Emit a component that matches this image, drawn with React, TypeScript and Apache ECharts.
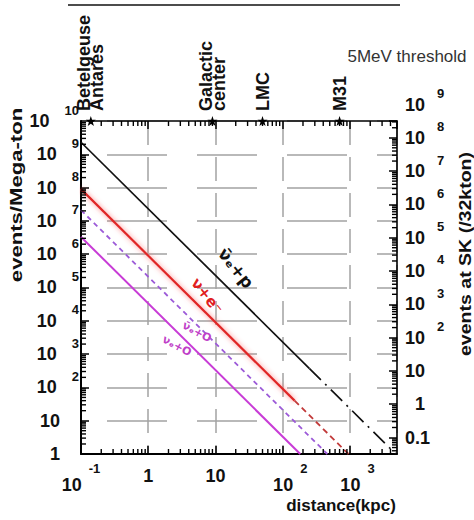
import React, { useEffect, useRef } from 'react';
import * as echarts from 'echarts';

// ---- axis ranges (log scales) ----
const X_MIN = 0.1;
const X_MAX = 5000;
const Y_MIN = 1;
const Y_MAX = 9.99e9; // top of plot (10^10)
const Y_TOP_LABEL_MIN = 10;
const Y_TOP_LABEL_MAX = 1e10;
const SK_MIN = 0.032; // events at SK (/32kton) = events/Mton * 0.032
const SK_MAX = 3.19e8;
const SK_LABEL_MIN = 0.1;
const SK_LABEL_MAX = 9.999e8;
const SK_TOP_LABEL_MIN = 10;
const SK_TOP_LABEL_MAX = 1e9;

// ---- landmarks on top axis (kpc) ----
const landmarkDistances = [0.14, 9, 50, 700];
const landmarkNames = ['Betelgeuse\nAntares', 'Galactic\ncenter', 'LMC', 'M31'];

// ---- series: [distance (kpc), events / Mega-ton] ----
const nubarPSolid = [[0.1, 2.3e9], [250, 368]];
const nubarPDashDot = [[250, 368], [4800, 1]];
const nuESolid = [[0.1, 9e7], [150, 40]];
const nuEDashed = [[150, 40], [950, 1]];
const oxygenDashed = [[0.1, 2.1e7], [460, 1]];
const oxygenSolid = [[0.1, 3.3e6], [182, 1]];

// ---- minor tick construction (log axis decoration) ----
const MANTISSAS = [2, 3, 4, 5, 6, 7, 8, 9];
const X_DECADES = [-1, 0, 1, 2, 3];
const Y_DECADES = [0, 1, 2, 3, 4, 5, 6, 7, 8, 9];
const SK_DECADES = [-2, -1, 0, 1, 2, 3, 4, 5, 6, 7, 8];
const minorOf = (decades: number[], lo: number, hi: number) => {
  const out: number[] = [];
  decades.forEach((e) => MANTISSAS.forEach((m) => {
    const v = m * Math.pow(10, e);
    if (v > lo && v < hi) out.push(v);
  }));
  return out;
};
const xMinor = minorOf(X_DECADES, X_MIN, X_MAX);
const yMinor = minorOf(Y_DECADES, Y_MIN, Y_MAX);
const skMinor = minorOf(SK_DECADES, SK_MIN, SK_MAX);

const F = '"Liberation Sans", Arial, Helvetica, sans-serif';
const STAR =
  'path://M0,-10L2.35,-3.24L9.51,-3.09L3.8,1.24L5.88,8.09L0,4L-5.88,8.09L-3.8,1.24L-9.51,-3.09L-2.35,-3.24Z';

const expOf = (v: number) => Math.round(Math.log10(v));

const baseTxt = { fontSize: 18, fontWeight: 'bold', fontFamily: F, color: '#111', lineHeight: 18 };
const supTxt = { fontSize: 13, fontWeight: 'bold', fontFamily: F, color: '#111', lineHeight: 13 };

const leftRich = {
  b: { ...baseTxt },
  s: { ...supTxt, padding: [0, 0, 22, 15] },
  p: { ...baseTxt, padding: [0, 19, 0, 0] },
};
const bottomRich = {
  b: { ...baseTxt, lineHeight: 46, padding: [0, 0, 0, 15] },
  b0: { ...baseTxt, lineHeight: 46 },
  s: { ...supTxt, verticalAlign: 'top', padding: [0, 0, 0, 7] },
  p: { ...baseTxt, lineHeight: 28 },
};
const rightRich = {
  b: { ...baseTxt },
  s: { ...supTxt, padding: [0, 0, 22, 12] },
  p: { ...baseTxt },
  p1: { ...baseTxt, padding: [0, 0, 0, 10] },
};

const leftFmt = (v: number) => {
  const e = expOf(v);
  if (e === 0) return '{p|1}';
  if (e === 1) return '{p|10}';
  return `{b|10}{s|${e}}`;
};
const bottomFmt = (v: number) => {
  const e = expOf(v);
  if (e === -1) return '{b0|10}{s|-1}';
  if (e === 0) return '{p|1}';
  if (e === 1) return '{p|10}';
  return `{b|10}{s|${e}}`;
};
const rightFmt = (v: number) => {
  const e = expOf(v);
  if (e === -1) return '{p|0.1}';
  if (e === 0) return '{p1|1}';
  if (e === 1) return '{p|10}';
  return `{b|10}{s|${e}}`;
};

const tickStyle = { color: '#000', width: 1.5 };
const hiddenX = (gridIndex: number) => ({ type: 'value', gridIndex, show: false, min: 0, max: 1 });
const labelOnlyY = (gridIndex: number, position: string, min: number, max: number, margin: number, fmt: any, rich: any, extra: any = {}) => ({
  type: 'log', logBase: 10, gridIndex, position, min, max, splitNumber: 10,
  axisLine: { show: false }, axisTick: { show: false }, splitLine: { show: false },
  axisLabel: { margin, formatter: fmt, rich, ...extra },
});

function App() {
  const ref = useRef<HTMLDivElement>(null);
  useEffect(() => {
    document.body.style.margin = '0';
    if (!ref.current) return;
    const chart = echarts.init(ref.current, null, { renderer: 'svg' });

    const lineBase = { type: 'line', xAxisIndex: 0, yAxisIndex: 0, showSymbol: false, symbol: 'none', z: 3, silent: true };
    const tickBase = { type: 'scatter', silent: true, clip: false, z: 7, symbol: 'rect', itemStyle: { color: '#000', opacity: 1 } };

    const option: any = {
      animation: false,
      backgroundColor: '#fff',
      grid: [
        { left: 81, right: 77, top: 121, bottom: 66 },
        { left: 81, right: 77, top: 104.5, bottom: 82.5 },
        { left: 81, right: 77, top: 104.5, bottom: 149.1 },
        { left: 81, right: 77, top: 121, bottom: 99.3 },
      ],
      xAxis: [
        {
          type: 'log', logBase: 10, gridIndex: 0, position: 'bottom', min: X_MIN, max: X_MAX, splitNumber: 5,
          axisLine: { lineStyle: { color: '#000', width: 2 } },
          axisTick: { inside: true, length: 8, lineStyle: tickStyle },
          axisLabel: { margin: 8, formatter: bottomFmt, rich: bottomRich, showMaxLabel: false },
          splitLine: { show: true, lineStyle: { color: '#a3a3a3', width: 1.5, type: [24, 12] } },
        },
        {
          type: 'log', logBase: 10, gridIndex: 0, position: 'top', min: X_MIN, max: X_MAX, splitNumber: 5,
          axisLine: { lineStyle: { color: '#000', width: 1.6 } },
          axisTick: { inside: true, length: 8, lineStyle: tickStyle },
          axisLabel: { show: false },
          splitLine: { show: false },
        },
        hiddenX(1),
        hiddenX(2),
        hiddenX(3),
      ],
      yAxis: [
        {
          type: 'log', logBase: 10, gridIndex: 0, position: 'left', min: Y_MIN, max: Y_MAX, splitNumber: 10,
          axisLine: { lineStyle: { color: '#000', width: 2 } },
          axisTick: { inside: true, length: 8, lineStyle: tickStyle },
          axisLabel: { margin: 2, formatter: leftFmt, rich: leftRich },
          splitLine: { show: true, lineStyle: { color: '#a3a3a3', width: 1.5, type: [60, 30], dashOffset: 64 } },
        },
        {
          type: 'log', logBase: 10, gridIndex: 0, position: 'right', min: SK_MIN, max: SK_MAX, splitNumber: 10,
          axisLine: { lineStyle: { color: '#000', width: 1.6 } },
          axisTick: { inside: true, length: 8, lineStyle: tickStyle },
          axisLabel: { show: false },
          splitLine: { show: false },
        },
        labelOnlyY(1, 'right', SK_LABEL_MIN, SK_LABEL_MAX, 8, rightFmt, rightRich, { showMaxLabel: false }),
        labelOnlyY(2, 'right', SK_TOP_LABEL_MIN, SK_TOP_LABEL_MAX, 8,
          (v: number) => (expOf(v) === 9 ? rightFmt(v) : ''), rightRich),
        labelOnlyY(3, 'left', Y_TOP_LABEL_MIN, Y_TOP_LABEL_MAX, 2,
          (v: number) => (expOf(v) === 10 ? leftFmt(v) : ''), leftRich),
      ],
      series: [
        { ...lineBase, data: oxygenSolid, lineStyle: { color: '#c83cd6', width: 2 } },
        { ...lineBase, data: oxygenDashed, lineStyle: { color: '#9c5ad8', width: 1.8, type: [5, 4] } },
        {
          ...lineBase, data: nuESolid,
          lineStyle: { color: '#e02828', width: 2.2, shadowBlur: 5, shadowColor: 'rgba(255,90,90,0.8)' },
        },
        { ...lineBase, data: nuEDashed, lineStyle: { color: '#c23a3a', width: 1.8, type: [6, 4] } },
        { ...lineBase, data: nubarPSolid, lineStyle: { color: '#111', width: 1.7 } },
        { ...lineBase, data: nubarPDashDot, lineStyle: { color: '#111', width: 1.7, type: [16, 6, 2, 6] } },
        // minor ticks (bottom, top, left, right), all pointing into the plot
        { ...tickBase, xAxisIndex: 0, yAxisIndex: 0, data: xMinor.map((v) => [v, Y_MIN]), symbolSize: [1.4, 5], symbolOffset: [0, -2.5] },
        { ...tickBase, xAxisIndex: 0, yAxisIndex: 0, data: xMinor.map((v) => [v, Y_MAX]), symbolSize: [1.4, 5], symbolOffset: [0, 2.5] },
        { ...tickBase, xAxisIndex: 0, yAxisIndex: 0, data: yMinor.map((v) => [X_MIN, v]), symbolSize: [5, 1.4], symbolOffset: [2.5, 0] },
        { ...tickBase, xAxisIndex: 0, yAxisIndex: 1, data: skMinor.map((v) => [X_MAX, v]), symbolSize: [5, 1.4], symbolOffset: [-2.5, 0] },
        {
          type: 'scatter', xAxisIndex: 1, yAxisIndex: 0, clip: false, z: 8, silent: true,
          data: landmarkDistances.map((d, i) => ({ value: [d, Y_MAX], name: landmarkNames[i] })),
          symbol: STAR, symbolSize: 10, itemStyle: { color: '#000', opacity: 1 },
          label: {
            show: true, position: 'top', distance: 5, rotate: 90, align: 'left', verticalAlign: 'middle',
            formatter: '{b}', fontSize: 18, fontWeight: 'bold', fontFamily: F, lineHeight: 13, color: '#111',
          },
        },
      ],
      graphic: [
        { type: 'line', shape: { x1: 68, y1: 5, x2: 400, y2: 5 }, style: { stroke: '#111', lineWidth: 1.6 } },
        {
          type: 'text', x: 407, y: 56,
          style: { text: '5MeV threshold', fontSize: 17, fontFamily: F, fill: '#333', align: 'center', verticalAlign: 'middle', textAlign: 'center', textVerticalAlign: 'middle' },
        },
        {
          type: 'text', x: 16, y: 195, rotation: Math.PI / 2, scaleX: 1.3,
          style: { text: 'events/Mega-ton', fontSize: 17, fontWeight: 'bold', fontFamily: F, fill: '#111', align: 'center', verticalAlign: 'middle', textAlign: 'center', textVerticalAlign: 'middle' },
        },
        {
          type: 'text', x: 465, y: 254, rotation: Math.PI / 2, scaleX: 1.15,
          style: { text: 'events at SK (/32kton)', fontSize: 17, fontWeight: 'bold', fontFamily: F, fill: '#111', align: 'center', verticalAlign: 'middle', textAlign: 'center', textVerticalAlign: 'middle' },
        },
        {
          type: 'text', x: 341, y: 505,
          style: { text: 'distance(kpc)', fontSize: 17, fontWeight: 'bold', fontFamily: F, fill: '#111', align: 'center', verticalAlign: 'middle', textAlign: 'center', textVerticalAlign: 'middle' },
        },
        {
          type: 'text', x: 236, y: 268, rotation: -0.9, z: 10,
          style: { text: 'ν̄ₑ+p', fontSize: 17, fontWeight: 'bold', fontFamily: '"DejaVu Sans", sans-serif', fill: '#111', align: 'center', verticalAlign: 'middle', textAlign: 'center', textVerticalAlign: 'middle' },
        },
        {
          type: 'text', x: 207, y: 296, rotation: -0.9, z: 10,
          style: { text: 'ν+e⁻', fontSize: 15, fontWeight: 'bold', fontFamily: '"DejaVu Sans", sans-serif', fill: '#e02020', align: 'center', verticalAlign: 'middle', textAlign: 'center', textVerticalAlign: 'middle' },
        },
        {
          type: 'text', x: 197, y: 332, rotation: -0.5, z: 10,
          style: { text: 'ν̄ₑ+O', fontSize: 11, fontWeight: 'bold', fontFamily: '"DejaVu Sans", sans-serif', fill: '#c040c8', align: 'center', verticalAlign: 'middle', textAlign: 'center', textVerticalAlign: 'middle' },
        },
        {
          type: 'text', x: 177, y: 346, rotation: -0.5, z: 10,
          style: { text: 'νₑ+O', fontSize: 11, fontWeight: 'bold', fontFamily: '"DejaVu Sans", sans-serif', fill: '#c040c8', align: 'center', verticalAlign: 'middle', textAlign: 'center', textVerticalAlign: 'middle' },
        },
      ],
    };

    chart.setOption(option);
    return () => chart.dispose();
  }, []);
  return <div ref={ref} style={{ width: 474, height: 520 }} />;
}

export default App;
